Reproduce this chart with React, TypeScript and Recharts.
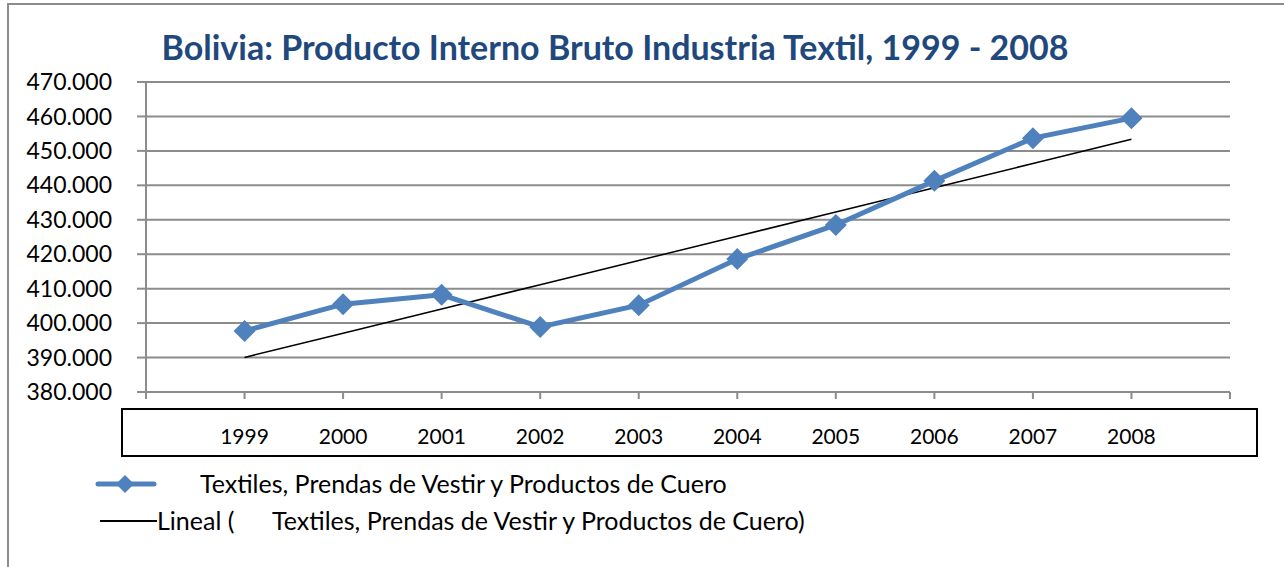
import React from 'react'
import { LineChart, Line, XAxis, YAxis, CartesianGrid } from 'recharts'

// años y PIB textil (miles de Bs. de 1990)
const years = [1999, 2000, 2001, 2002, 2003, 2004, 2005, 2006, 2007, 2008]
const pib = [397700, 405500, 408200, 398900, 405200, 418600, 428500, 441300, 453700, 459500]
const yTicks = [380000, 390000, 400000, 410000, 420000, 430000, 440000, 450000, 460000, 470000]
const xTicks = [1998, 1999, 2000, 2001, 2002, 2003, 2004, 2005, 2006, 2007, 2008, 2009]

const seriesName = 'Textiles, Prendas de Vestir y Productos de Cuero'
const trendName = 'Lineal (      Textiles, Prendas de Vestir y Productos de Cuero)'

const BLUE = '#4F81BD'
const FONT = 'Lato, "Open Sans", sans-serif'

// tendencia lineal (mínimos cuadrados), como la línea de Excel
const n = years.length
const mx = years.reduce((a, b) => a + b, 0) / n
const my = pib.reduce((a, b) => a + b, 0) / n
let sxy = 0
let sxx = 0
years.forEach((x, i) => {
  sxy += (x - mx) * (pib[i] - my)
  sxx += (x - mx) * (x - mx)
})
const slope = sxy / sxx

const data = years.map((y, i) => ({
  year: y,
  pib: pib[i],
  trend: my + slope * (y - mx)
}))

const fmt = (v: number) => {
  const miles = Math.floor(v / 1000)
  const resto = String(Math.round(v % 1000)).padStart(3, '0')
  return `${miles}.${resto}`
}

const Diamond = (props: any) => {
  const { cx, cy } = props
  if (cx == null || cy == null) return null
  const r = 11
  return <polygon points={`${cx},${cy - r} ${cx + r},${cy} ${cx},${cy + r} ${cx - r},${cy}`} fill={BLUE} />
}

const YearTick = (props: any) => {
  const { x, payload } = props
  if (!years.includes(payload.value)) return null
  return (
    <text x={x} y={444} textAnchor="middle" fontSize={21} fontFamily={FONT} fill="#000">
      {payload.value}
    </text>
  )
}

const LegendBox = () => (
  <div style={{ position: 'absolute', left: 95, top: 465, fontFamily: FONT, fontSize: 25, color: '#000', whiteSpace: 'pre', lineHeight: 1 }}>
    <div style={{ display: 'flex', alignItems: 'center', height: 37 }}>
      <svg width={62} height={26}>
        <line x1={3} y1={13} x2={59} y2={13} stroke={BLUE} strokeWidth={5} strokeLinecap="round" />
        <polygon points="30,4 39,13 30,22 21,13" fill={BLUE} />
      </svg>
      <span style={{ marginLeft: 43 }}>{seriesName}</span>
    </div>
    <div style={{ display: 'flex', alignItems: 'center', height: 37 }}>
      <svg width={62} height={26}>
        <line x1={5} y1={13} x2={62} y2={13} stroke="#000" strokeWidth={2} />
      </svg>
      <span>{trendName}</span>
    </div>
  </div>
)

export default function App() {
  return (
    <div style={{ position: 'absolute', left: 0, top: 0, width: 1284, height: 567, overflow: 'hidden', background: '#fff' }}>
      <div style={{ position: 'absolute', left: 7, top: 3, width: 1300, height: 600, border: '2px solid #8c8c8c' }} />
      <div style={{ position: 'absolute', left: 0, top: 26, width: 1230, textAlign: 'center', fontFamily: FONT, fontWeight: 700, fontSize: 34, color: '#1F497D' }}>
        Bolivia: Producto Interno Bruto Industria Textil, 1999 - 2008
      </div>
      <div style={{ position: 'absolute', left: 121, top: 408, width: 1133, height: 45, border: '2px solid #000' }} />
      <div style={{ position: 'absolute', left: 0, top: 0 }}>
        <LineChart width={1284} height={567} data={data} margin={{ top: 82, right: 54, bottom: 145, left: 16 }}>
          <CartesianGrid vertical={false} stroke="#8c8c8c" strokeWidth={2} />
          <XAxis
            dataKey="year"
            type="number"
            domain={[1998, 2009]}
            ticks={xTicks}
            interval={0}
            stroke="#8c8c8c"
            strokeWidth={2}
            tickSize={7}
            tick={<YearTick />}
            height={30}
          />
          <YAxis
            domain={[380000, 470000]}
            ticks={yTicks}
            interval={0}
            width={130}
            stroke="#8c8c8c"
            strokeWidth={2}
            tickSize={9}
            tickMargin={25}
            tickFormatter={fmt}
            tick={{ fill: '#000', fontSize: 23, fontFamily: FONT }}
          />
          <Line
            dataKey="trend"
            stroke="#000"
            strokeWidth={1.5}
            dot={false}
            isAnimationActive={false}
          />
          <Line
            dataKey="pib"
            stroke={BLUE}
            strokeWidth={5}
            dot={<Diamond />}
            isAnimationActive={false}
          />
        </LineChart>
      </div>
      <LegendBox />
    </div>
  )
}
